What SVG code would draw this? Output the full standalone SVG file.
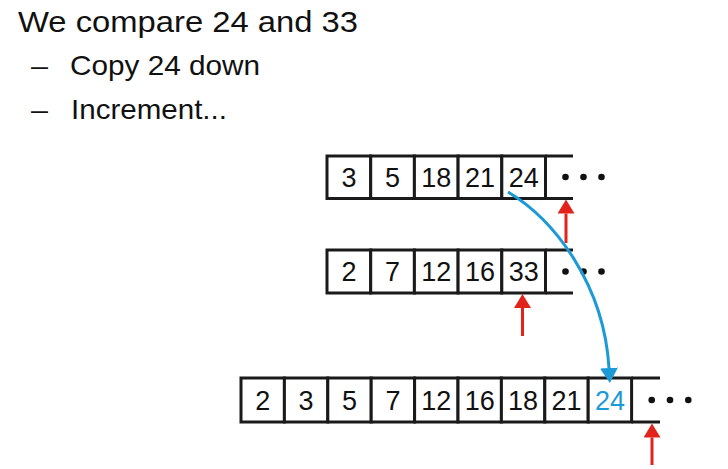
<svg xmlns="http://www.w3.org/2000/svg" width="728" height="469" viewBox="0 0 728 469">
<style>
text{font-family:"Liberation Sans",Arial,sans-serif;fill:#111}
.t1{font-size:30px}
.t2{font-size:28.5px}
.num{font-size:27px;text-anchor:middle}
.blue{fill:#1b9ad6}
.cell{fill:#fff;stroke:#1a1a1a;stroke-width:3}
.rail{stroke:#1a1a1a;stroke-width:3;fill:none}
.dot{fill:#111}
.red{stroke:#e2231a;stroke-width:3;fill:none}
.bl{stroke:#1b9ad6;stroke-width:3;fill:none}
</style>
<defs>
<marker id="ra" markerUnits="userSpaceOnUse" markerWidth="14" markerHeight="17" refX="0" refY="8.5" orient="auto" viewBox="0 0 14 17">
<path d="M0,0 L14,8.5 L0,17 z" fill="#e2231a"/>
</marker>
<marker id="ba" markerUnits="userSpaceOnUse" markerWidth="15" markerHeight="18" refX="0" refY="9" orient="auto" viewBox="0 0 15 18">
<path d="M0,0 L15,9 L0,18 z" fill="#1b9ad6"/>
</marker>
</defs>

<g id="title">
<text class="t1" x="18" y="31.5" textLength="340" lengthAdjust="spacingAndGlyphs">We compare 24 and 33</text>
<text class="t2" x="31" y="75" textLength="17" lengthAdjust="spacingAndGlyphs">–</text>
<text class="t2" x="70" y="75" textLength="190" lengthAdjust="spacingAndGlyphs">Copy 24 down</text>
<text class="t2" x="31" y="118.5" textLength="17" lengthAdjust="spacingAndGlyphs">–</text>
<text class="t2" x="71" y="118.5" textLength="156" lengthAdjust="spacingAndGlyphs">Increment...</text>
</g>

<g id="arrayA">
<path class="rail" d="M545.5,156 H573 M545.5,198.5 H573"/>
<rect class="cell" x="327" y="156" width="43.7" height="42.5"/>
<rect class="cell" x="370.7" y="156" width="43.7" height="42.5"/>
<rect class="cell" x="414.4" y="156" width="43.7" height="42.5"/>
<rect class="cell" x="458.1" y="156" width="43.7" height="42.5"/>
<rect class="cell" x="501.8" y="156" width="43.7" height="42.5"/>
<text class="num" x="348.9" y="187">3</text>
<text class="num" x="392.6" y="187">5</text>
<text class="num" x="436.3" y="187">18</text>
<text class="num" x="480" y="187">21</text>
<text class="num" x="523.7" y="187">24</text>
<circle class="dot" cx="565.5" cy="177" r="3.3"/>
<circle class="dot" cx="583.5" cy="177" r="3.3"/>
<circle class="dot" cx="601.5" cy="177" r="3.3"/>
</g>

<g id="arrayB">
<path class="rail" d="M545.5,250 H573 M545.5,293 H573"/>
<rect class="cell" x="327" y="250" width="43.7" height="43"/>
<rect class="cell" x="370.7" y="250" width="43.7" height="43"/>
<rect class="cell" x="414.4" y="250" width="43.7" height="43"/>
<rect class="cell" x="458.1" y="250" width="43.7" height="43"/>
<rect class="cell" x="501.8" y="250" width="43.7" height="43"/>
<text class="num" x="348.9" y="281">2</text>
<text class="num" x="392.6" y="281">7</text>
<text class="num" x="436.3" y="281">12</text>
<text class="num" x="480" y="281">16</text>
<text class="num" x="523.7" y="281">33</text>
<circle class="dot" cx="565.5" cy="271.5" r="3.3"/>
<circle class="dot" cx="583.5" cy="271.5" r="3.3"/>
<circle class="dot" cx="601.5" cy="271.5" r="3.3"/>
</g>

<g id="arrayC">
<path class="rail" d="M631.6,378 H660 M631.6,422 H660"/>
<rect class="cell" x="241" y="378" width="43.4" height="44"/>
<rect class="cell" x="284.4" y="378" width="43.4" height="44"/>
<rect class="cell" x="327.8" y="378" width="43.4" height="44"/>
<rect class="cell" x="371.2" y="378" width="43.4" height="44"/>
<rect class="cell" x="414.6" y="378" width="43.4" height="44"/>
<rect class="cell" x="458" y="378" width="43.4" height="44"/>
<rect class="cell" x="501.4" y="378" width="43.4" height="44"/>
<rect class="cell" x="544.8" y="378" width="43.4" height="44"/>
<rect class="cell" x="588.2" y="378" width="43.4" height="44"/>
<text class="num" x="262.7" y="410">2</text>
<text class="num" x="306.1" y="410">3</text>
<text class="num" x="349.5" y="410">5</text>
<text class="num" x="392.9" y="410">7</text>
<text class="num" x="436.3" y="410">12</text>
<text class="num" x="479.7" y="410">16</text>
<text class="num" x="523.1" y="410">18</text>
<text class="num" x="566.5" y="410">21</text>
<text class="num blue" x="609.9" y="410">24</text>
<circle class="dot" cx="651.7" cy="400" r="3.3"/>
<circle class="dot" cx="670" cy="400" r="3.3"/>
<circle class="dot" cx="688.3" cy="400" r="3.3"/>
</g>

<g id="connectors">
<line class="red" x1="566" y1="243" x2="566" y2="213.5" marker-end="url(#ra)"/>
<line class="red" x1="522.5" y1="336" x2="522.5" y2="308" marker-end="url(#ra)"/>
<line class="red" x1="652" y1="465" x2="652" y2="437.5" marker-end="url(#ra)"/>
<path class="bl" d="M508,192 C555,220 604,285 609,368" marker-end="url(#ba)"/>
</g>
</svg>
